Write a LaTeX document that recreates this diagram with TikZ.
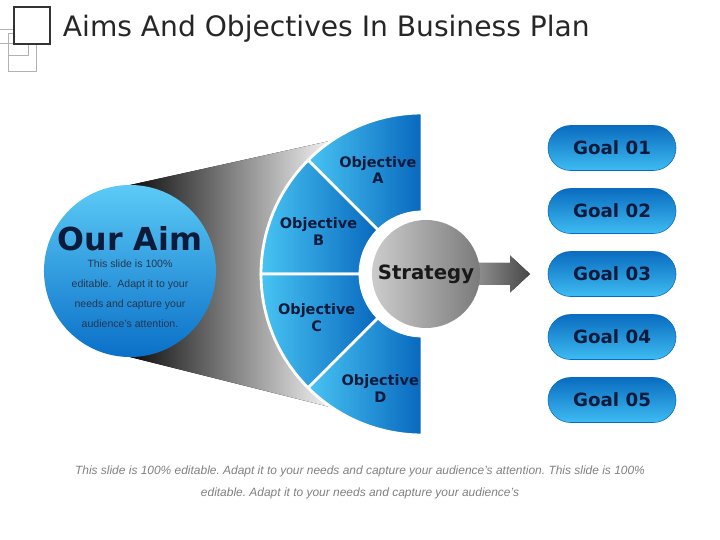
\documentclass[tikz,border=0pt]{standalone}
\usepackage{fontspec}
\setmainfont{Liberation Sans}
\newfontfamily\headfont{DejaVu Sans}
\usepackage{tikz}
\usetikzlibrary{calc,positioning}
\definecolor{aimlight}{RGB}{92,202,246}
\definecolor{aimdark}{RGB}{10,112,200}
\definecolor{fanlight}{RGB}{72,196,243}
\definecolor{fandark}{RGB}{8,104,190}
\definecolor{goaldark}{RGB}{10,108,192}
\definecolor{goallight}{RGB}{62,188,242}
\definecolor{navytext}{RGB}{12,26,60}
\definecolor{smalltext}{RGB}{35,55,80}
\frenchspacing

\begin{document}
\begin{tikzpicture}[x=0.025cm, y=0.025cm,
  titletext/.style={anchor=base west, font=\headfont\fontsize{20}{24}\selectfont,
                    text=black!85},
  logobox/.style={draw=black!80, line width=1pt, fill=white},
  logoline/.style={draw=black!30, line width=0.5pt},
  funnel/.style={left color=black!95, right color=black!4},
  aimcircle/.style={circle, minimum size=4.3cm, inner sep=0pt,
                    top color=aimlight, bottom color=aimdark},
  aimtitle/.style={font=\headfont\bfseries\fontsize{22.5}{26}\selectfont,
                   text=navytext},
  aimtext/.style={align=center, font=\fontsize{7.5}{14.2}\selectfont,
                  text=smalltext},
  sector/.style={draw=white, line width=2pt, left color=fanlight,
                 right color=fandark},
  objlabel/.style={align=center, text=navytext,
                   font=\headfont\bfseries\fontsize{10.3}{12}\selectfont},
  stratnode/.style={circle, minimum size=2.7cm, inner sep=0pt,
                    left color=black!20, right color=black!52, text=black!90,
                    font=\headfont\bfseries\fontsize{14}{16}\selectfont},
  arrowfill/.style={left color=black!35, right color=black!72},
  goal/.style={rectangle, rounded corners=0.5625cm, minimum width=3.2cm,
               minimum height=1.125cm, draw=goaldark, thin,
               top color=goaldark, bottom color=goallight, text=navytext,
               font=\headfont\bfseries\fontsize{13}{15}\selectfont},
  footnote/.style={align=center, text=black!50,
                   font=\itshape\fontsize{8.5}{15.6}\selectfont},
]
\useasboundingbox (0,0) rectangle (720,539);

%% Title with logo
\draw[logoline] (0,510) -- (14,510);
\draw[logoline] (0,496) -- (8,496);
\draw[logoline] (8,506) rectangle (28,484);
\draw[logoline] (8,496) rectangle (36,468);
\draw[logobox] (14,532) rectangle (50,495);
\node[titletext] (title) at (58,502) {Aims And Objectives In Business Plan};

%% Funnel behind the aim
\fill[funnel] (130,354) -- (332,398.5) -- (332,131.5) -- (130,182) -- cycle;

%% Our aim
\node[aimcircle] (aim) at (130,268) {};
\node[aimtitle] (aimhead) at (130,300) {Our Aim};
\node[aimtext] (aimbody) at (130,245.5)
  {This slide is 100\%\\editable.\ \ Adapt it to your\\needs and capture your\\audience's attention.};

%% Objective fan
\coordinate (fanc) at (422,265);
\draw[sector] ($(fanc)+(90:161)$) arc[start angle=90, end angle=135, radius=161]
  -- ($(fanc)+(135:62)$) arc[start angle=135, end angle=90, radius=62] -- cycle;
\draw[sector] ($(fanc)+(135:161)$) arc[start angle=135, end angle=180, radius=161]
  -- ($(fanc)+(180:62)$) arc[start angle=180, end angle=135, radius=62] -- cycle;
\draw[sector] ($(fanc)+(180:161)$) arc[start angle=180, end angle=225, radius=161]
  -- ($(fanc)+(225:62)$) arc[start angle=225, end angle=180, radius=62] -- cycle;
\draw[sector] ($(fanc)+(225:161)$) arc[start angle=225, end angle=270, radius=161]
  -- ($(fanc)+(270:62)$) arc[start angle=270, end angle=225, radius=62] -- cycle;

\node[objlabel] (objA) at ($(fanc)+(113:113)$) {Objective\\A};
\node[objlabel] (objB) at ($(fanc)+(157.5:112)$) {Objective\\B};
\node[objlabel] (objC) at ($(fanc)+(202.5:114)$) {Objective\\C};
\node[objlabel] (objD) at ($(fanc)+(250:122)$) {Objective\\D};

%% Strategy with arrow
\coordinate (tip) at (530,265);
\fill[arrowfill] (460,276) -- (510,276) -- (510,283.5) -- (tip)
  -- (510,246.5) -- (510,254) -- (460,254) -- cycle;
\node[stratnode] (strat) at (426,265) {Strategy};

%% Goals
\node[goal] (goal1) at (612,391) {Goal 01};
\node[goal] (goal2) at (612,328) {Goal 02};
\node[goal] (goal3) at (612,265) {Goal 03};
\node[goal] (goal4) at (612,202) {Goal 04};
\node[goal] (goal5) at (612,139) {Goal 05};

%% Footer
\node[footnote] (foot) at (360,57)
  {This slide is 100\% editable. Adapt it to your needs and capture your audience's attention. This slide is 100\%\\editable. Adapt it to your needs and capture your audience's};

\end{tikzpicture}
\end{document}
